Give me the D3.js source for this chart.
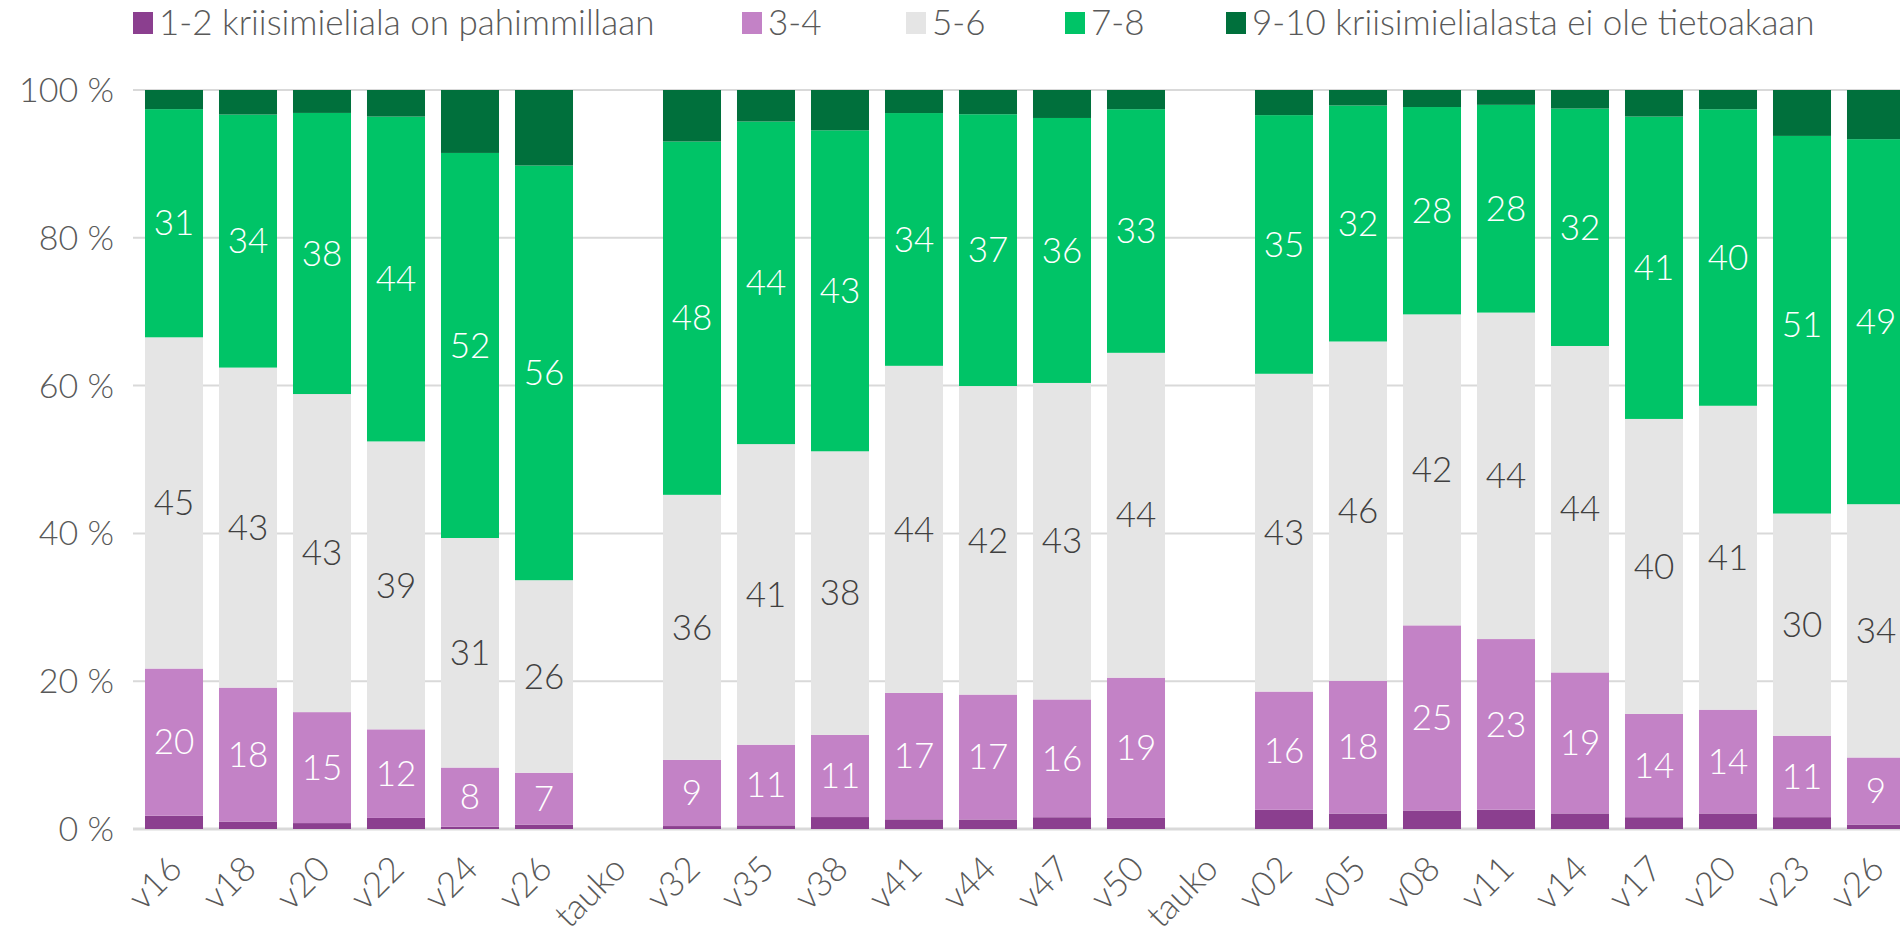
<!DOCTYPE html>
<html>
<head>
<meta charset="utf-8">
<script src="https://cdn.jsdelivr.net/npm/d3@7"></script>
<style>
  body { margin: 0; background: #fff; overflow: hidden; }
  svg { font-family: Lato, "Open Sans", sans-serif; font-weight: 300; }
</style>
</head>
<body>
<svg width="1900" height="934"></svg>
<script>
const categories = ['v16','v18','v20','v22','v24','v26','tauko','v32','v35','v38','v41','v44','v47','v50','tauko','v02','v05','v08','v11','v14','v17','v20','v23','v26'];
const seriesNames = ['1-2 kriisimieliala on pahimmillaan', '3-4', '5-6', '7-8', '9-10 kriisimielialasta ei ole tietoakaan'];
const s12  = [1.8, 1.0, 0.8, 1.5, 0.3, 0.6, 0, 0.4, 0.5, 1.6, 1.3, 1.3, 1.6, 1.5, 0, 2.6, 2.1, 2.5, 2.6, 2.1, 1.6, 2.1, 1.6, 0.6];
const s34  = [20, 18, 15, 12, 8, 7, 0, 9, 11, 11, 17, 17, 16, 19, 0, 16, 18, 25, 23, 19, 14, 14, 11, 9];
const s56  = [45, 43, 43, 39, 31, 26, 0, 36, 41, 38, 44, 42, 43, 44, 0, 43, 46, 42, 44, 44, 40, 41, 30, 34];
const s78  = [31, 34, 38, 44, 52, 56, 0, 48, 44, 43, 34, 37, 36, 33, 0, 35, 32, 28, 28, 32, 41, 40, 51, 49];
const s910 = [2.6, 3.3, 3.1, 3.6, 8.5, 10.2, 0, 7.0, 4.3, 5.4, 3.1, 3.3, 3.8, 2.6, 0, 3.4, 2.1, 2.3, 2.0, 2.5, 3.6, 2.6, 6.2, 6.6];
const yTicks = [0, 20, 40, 60, 80, 100];

const colors = ['#8B3F8F', '#C382C6', '#E5E5E5', '#00C467', '#00703C'];
const labelColors = [null, '#ffffff', '#404040', '#ffffff', null];
const fontSize = 35;

const rows = categories.map((c, i) => ({
  idx: i, cat: c,
  k0: s12[i], k1: s34[i], k2: s56[i], k3: s78[i], k4: s910[i]
}));
const keys = ['k0','k1','k2','k3','k4'];

const stacked = d3.stack().keys(keys).offset(d3.stackOffsetExpand)(rows);

const svg = d3.select('svg');

const x = d3.scaleBand()
  .domain(d3.range(categories.length))
  .range([137, 137 + 24 * 74])
  .paddingInner(0.216)
  .paddingOuter(0.108);

const y = d3.scaleLinear().domain([0, 1]).range([829, 90]);

// gridlines
svg.append('g')
  .selectAll('line')
  .data(yTicks)
  .join('line')
    .attr('x1', 133)
    .attr('x2', 1900)
    .attr('y1', d => y(d / 100))
    .attr('y2', d => y(d / 100))
    .attr('stroke', '#d9d9d9')
    .attr('stroke-width', d => d === 0 ? 3 : 2);

// y labels
svg.append('g')
  .selectAll('text')
  .data(yTicks)
  .join('text')
    .attr('x', 114)
    .attr('y', d => y(d / 100))
    .attr('dy', '0.35em')
    .attr('text-anchor', 'end')
    .attr('fill', '#595959')
    .attr('font-size', 34)
    .text(d => d + ' %');

// bars
const layers = svg.append('g')
  .selectAll('g')
  .data(stacked)
  .join('g')
    .attr('fill', (d, i) => colors[i]);

layers.selectAll('rect')
  .data(d => d)
  .join('rect')
    .attr('x', d => x(d.data.idx))
    .attr('width', x.bandwidth())
    .attr('y', d => y(d[1]))
    .attr('height', d => Math.max(0, y(d[0]) - y(d[1])));

// data labels
stacked.forEach((layer, li) => {
  if (!labelColors[li]) return;
  svg.append('g')
    .selectAll('text')
    .data(layer.filter(d => d.data[keys[li]] > 0))
    .join('text')
      .attr('x', d => x(d.data.idx) + x.bandwidth() / 2)
      .attr('y', d => (y(d[0]) + y(d[1])) / 2)
      .attr('dy', '0.35em')
      .attr('text-anchor', 'middle')
      .attr('fill', labelColors[li])
      .attr('font-size', fontSize)
      .text(d => d.data[keys[li]]);
});

// x labels
svg.append('g')
  .selectAll('text')
  .data(categories)
  .join('text')
    .attr('transform', (d, i) => `translate(${x(i) + x.bandwidth() / 2 + 10}, 871) rotate(-45)`)
    .attr('text-anchor', 'end')
    .attr('fill', '#595959')
    .attr('font-size', fontSize)
    .text(d => d);

// legend
const legendX = [133, 742, 906, 1065, 1226];
const legend = svg.append('g')
  .selectAll('g')
  .data(seriesNames)
  .join('g')
    .attr('transform', (d, i) => `translate(${legendX[i]}, 23)`);

legend.append('rect')
  .attr('x', 0).attr('y', -11)
  .attr('width', 20).attr('height', 22)
  .attr('fill', (d, i) => colors[i]);

legend.append('text')
  .attr('x', 26)
  .attr('dy', '0.35em')
  .attr('fill', '#595959')
  .attr('font-size', fontSize)
  .text(d => d);
</script>
</body>
</html>
